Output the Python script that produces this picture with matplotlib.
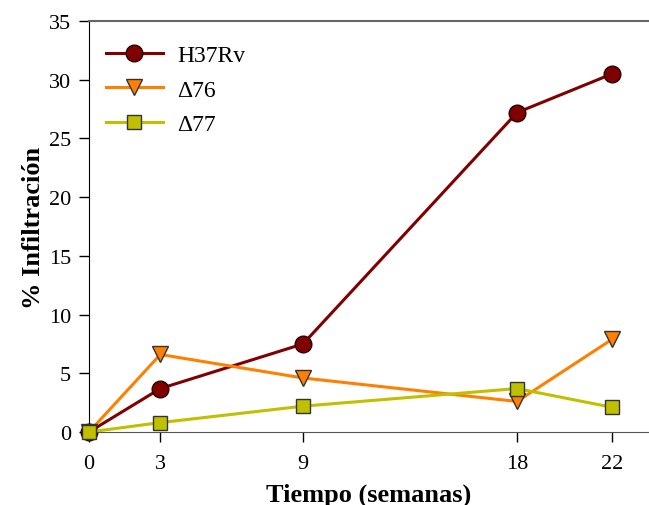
import matplotlib
matplotlib.use("Agg")
import matplotlib.pyplot as plt

# data
weeks = [0, 3, 9, 18, 22]
h37rv = [0, 3.7, 7.5, 27.2, 30.5]
d76 = [0, 6.6, 4.6, 2.6, 7.9]
d77 = [0, 0.8, 2.2, 3.7, 2.1]

plt.rcParams['font.family'] = ['Liberation Serif', 'DejaVu Serif']

fig = plt.figure(figsize=(6.49, 5.06), dpi=100)
ax = fig.add_axes([89/649, 73/506, (649-89)/649, 411/506])

ax.plot(weeks, h37rv, color='#800000', lw=2.2, marker='o', ms=12,
        mfc='#800000', mec='#2a0000', mew=1, label='H37Rv', clip_on=False, zorder=3)
ax.plot(weeks, d76, color='#ff8000', lw=2.2, marker='v', ms=12,
        mfc='#ff8000', mec='#333333', mew=1, label='Δ76', clip_on=False, zorder=4)
ax.plot(weeks, d77, color='#c0c000', lw=2.2, marker='s', ms=10.5,
        mfc='#c0c000', mec='#333333', mew=1, label='Δ77', clip_on=False, zorder=5)

ax.set_xlim(0, 23.55)
ax.set_ylim(0, 35)
ax.set_xticks(weeks)
ax.set_yticks(range(0, 36, 5))
ax.tick_params(direction='out', length=7, width=1, labelsize=16, pad=6)
ax.tick_params(axis='x', pad=9)

ax.spines['right'].set_visible(False)
ax.spines['left'].set_color('black')
ax.spines['bottom'].set_color('#555555')
ax.spines['top'].set_color('#666666')
ax.spines['top'].set_linewidth(1.5)

ax.set_xlabel('Tiempo (semanas)', fontsize=19, fontweight='bold', labelpad=7)
ax.set_ylabel('% Infiltración', fontsize=19, fontweight='bold', labelpad=3)

ax.legend(loc='upper left', bbox_to_anchor=(0.0, 0.983), frameon=False,
          fontsize=17, handlelength=2.45, borderaxespad=0.3,
          labelspacing=0.55, handletextpad=0.6)

fig.savefig('out.png', dpi=100)
